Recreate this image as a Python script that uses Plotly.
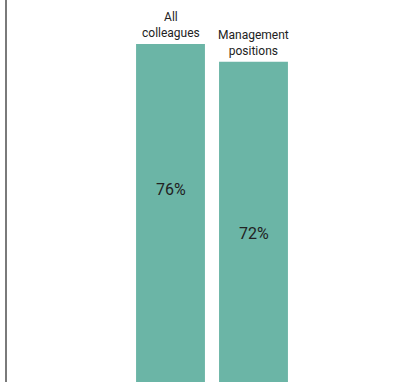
import plotly.graph_objects as go

categories = ["All<br>colleagues", "Management<br>positions"]
values = [76, 72]
value_labels = ["76%", "72%"]
label_heights = [43.4, 33.5]  # where the % text sits inside each bar

BAR_COLOR = "#6bb5a6"
TEXT_COLOR = "#222222"
FONT = "Roboto, sans-serif"

x = list(range(len(categories)))

fig = go.Figure()
fig.add_trace(
    go.Bar(
        x=x,
        y=values,
        width=0.83,
        marker=dict(color=BAR_COLOR, line=dict(width=0)),
        hoverinfo="skip",
    )
)

for xi, cat, val, lab, ly in zip(x, categories, values, value_labels, label_heights):
    fig.add_annotation(
        x=xi, y=val, text=cat, showarrow=False,
        yanchor="bottom", yshift=2,
        font=dict(family=FONT, size=12, color=TEXT_COLOR),
    )
    fig.add_annotation(
        x=xi, y=ly, text=lab, showarrow=False,
        font=dict(family=FONT, size=16, color=TEXT_COLOR),
    )

fig.update_layout(
    width=396,
    height=382,
    margin=dict(l=7, r=0, t=0, b=0),
    paper_bgcolor="white",
    plot_bgcolor="white",
    showlegend=False,
    xaxis=dict(range=[-1.97, 2.717], showgrid=False, zeroline=False,
               showticklabels=False, ticks="", fixedrange=True),
    yaxis=dict(range=[0, 85.9], showgrid=False, zeroline=False,
               showticklabels=False, ticks="", fixedrange=True,
               showline=True, linecolor="#7a7a7a", linewidth=2),
)

# drop the browser's default page margin so the chart fills the window
fig.write_html(
    "out.html",
    config={"displayModeBar": False},
    post_script="document.body.style.margin='0';",
)
